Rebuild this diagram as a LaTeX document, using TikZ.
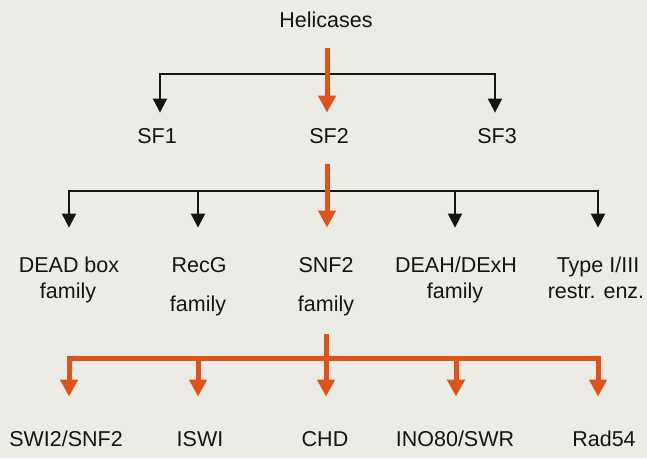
\documentclass[tikz,border=0pt]{standalone}
\usepackage{fontspec}
\setmainfont{Liberation Sans}
\usetikzlibrary{arrows.meta}
\definecolor{bgc}{RGB}{236,235,230}
\definecolor{orc}{RGB}{224,82,26}
\definecolor{blc}{RGB}{20,20,20}
\tikzset{
  lab/.style={font=\fontsize{21.5}{25}\selectfont, inner sep=0pt, text height=15.4pt, text depth=0pt, text=blc},
  blkarrow/.style={draw=blc, line width=2pt, -{Triangle[width=14pt,length=14pt]}},
  orarrow/.style={draw=orc, line width=5pt, -{Triangle[width=17pt,length=17pt]}},
  orline/.style={draw=orc, line width=5pt}
}
\begin{document}
\begin{tikzpicture}[x=1pt,y=-1pt]
\useasboundingbox (0,0) rectangle (647,458);
\fill[bgc] (0,0) rectangle (647,458);

% labels
\node[lab] (h) at (326,20) {Helicases};
\node[lab] (sf1) at (157,135.5) {SF1};
\node[lab] (sf2) at (329,135.5) {SF2};
\node[lab] (sf3) at (497,135.5) {SF3};

\node[lab] (dead) at (69,264.5) {DEAD box};
\node[lab] (deadb) at (68,290.5) {family};
\node[lab] (recg) at (199,264.5) {RecG};
\node[lab] (recgb) at (198,304) {family};
\node[lab] (snf) at (326,264.5) {SNF2};
\node[lab] (snfb) at (326,304) {family};
\node[lab] (deah) at (456,264.5) {DEAH/DExH};
\node[lab] (deahb) at (455,290.5) {family};
\node[lab] (type) at (598,264.5) {Type I/III};
\node[lab] (typeb) at (596,290.5) {restr. enz.};

\node[lab] (swi) at (66,439) {SWI2/SNF2};
\node[lab] (iswi) at (200,439) {ISWI};
\node[lab] (chd) at (325,439) {CHD};
\node[lab] (ino) at (455,439) {INO80/SWR};
\node[lab] (rad) at (604,439) {Rad54};

% junctions
\coordinate (j1) at (327,74);
\coordinate (j2) at (327,191);
\coordinate (j3) at (326,358);

% tier 1
\draw[blkarrow] (j1) -| ([xshift=3pt,yshift=15pt]sf1.north);
\draw[blkarrow] (j1) -| ([xshift=-2pt,yshift=15pt]sf3.north);
\draw[orarrow] ([xshift=1pt,yshift=-20.5pt]h.south) -- ([xshift=-2pt,yshift=15pt]sf2.north);

% tier 2
\draw[blkarrow] (j2) -| ([yshift=29pt]dead.north);
\draw[blkarrow] (j2) -| ([xshift=-1pt,yshift=29pt]recg.north);
\draw[blkarrow] (j2) -| ([xshift=-1pt,yshift=29pt]deah.north);
\draw[blkarrow] (j2) -| ([yshift=29pt]type.north);
\draw[orarrow] ([xshift=-2pt,yshift=-21pt]sf2.south) -- ([xshift=1pt,yshift=29pt]snf.north);

% tier 3
\draw[orarrow] (j3) -| ([xshift=3pt,yshift=34.5pt]swi.north);
\draw[orarrow] (j3) -| ([xshift=-2pt,yshift=34.5pt]iswi.north);
\draw[orarrow] (j3) -| ([xshift=1pt,yshift=34.5pt]ino.north);
\draw[orarrow] (j3) -| ([xshift=-6pt,yshift=34.5pt]rad.north);
\draw[orarrow] ([yshift=-22.5pt]snfb.south) -- ([xshift=1pt,yshift=34.5pt]chd.north);
\end{tikzpicture}
\end{document}
